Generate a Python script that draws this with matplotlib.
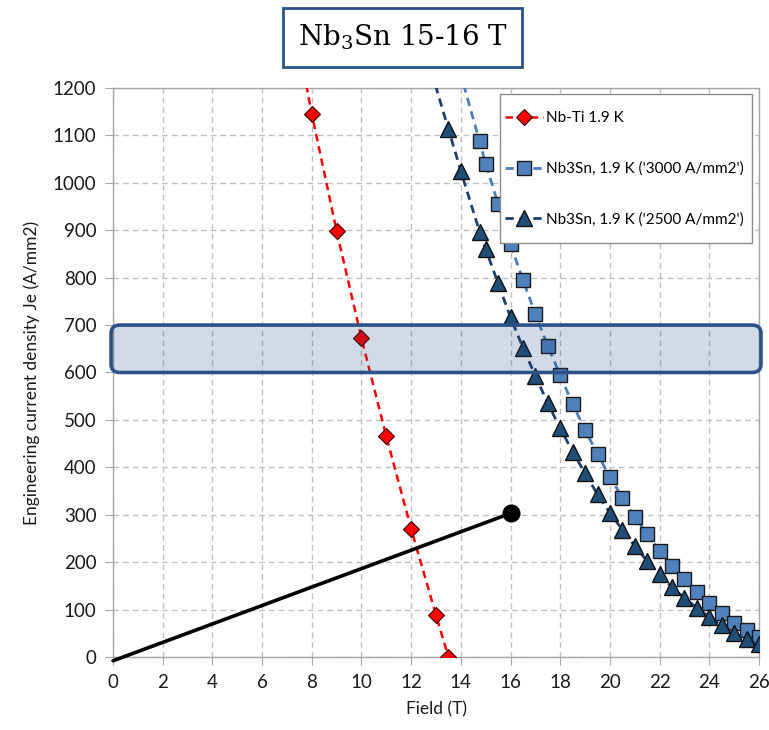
import matplotlib
matplotlib.use("Agg")
import matplotlib.pyplot as plt
from matplotlib.patches import FancyBboxPatch, Rectangle

# Nb-Ti at 1.9 K
nbti_field = [7.0, 8, 9, 10, 11, 12, 13, 13.5]
nbti_je = [1420, 1145, 898, 672, 465, 270, 88, 0]

# Nb3Sn at 1.9 K, '3000 A/mm2' conductor
sn3000_field = [13.5, 14.75, 15, 15.5, 16, 16.5, 17, 17.5, 18, 18.5, 19, 19.5, 20,
                20.5, 21, 21.5, 22, 22.5, 23, 23.5, 24, 24.5, 25, 25.5, 26]
sn3000_je = [1320, 1088, 1040, 955, 870, 795, 723, 656, 594, 533, 479, 428, 380,
             336, 296, 259, 223, 192, 164, 138, 114, 92, 72, 57, 43]

# Nb3Sn at 1.9 K, '2500 A/mm2' conductor
sn2500_field = [12.5, 13.5, 14, 14.75, 15, 15.5, 16, 16.5, 17, 17.5, 18, 18.5, 19,
                19.5, 20, 20.5, 21, 21.5, 22, 22.5, 23, 23.5, 24, 24.5, 25, 25.5, 26]
sn2500_je = [1290, 1113, 1025, 897, 860, 788, 716, 652, 593, 535, 482, 433, 387,
             343, 304, 268, 234, 202, 174, 147, 124, 104, 84, 67, 51, 37, 27]

# Magnet load line and operating point
load_field = [0, 16]
load_je = [-8, 303]

# Target current-density band
band_low, band_high = 600, 700

x_ticks = list(range(0, 27, 2))
y_ticks = list(range(0, 1201, 100))

plt.rcParams['font.family'] = ['Lato', 'DejaVu Sans']

fig = plt.figure(figsize=(7.69, 7.30), dpi=100)
ax = fig.add_axes([0.147, 0.1, 0.84, 0.7795])

grid_c = '#BFBFBF'
ax.set_xlim(0, 26)
ax.set_ylim(0, 1200)
ax.set_xticks(x_ticks)
ax.set_yticks(y_ticks)
ax.grid(True, color=grid_c, linestyle=(0, (4, 3)), linewidth=1.0)
ax.set_axisbelow(True)
for s in ax.spines.values():
    s.set_color('#A6A6A6')
    s.set_linewidth(1.0)
ax.tick_params(axis='both', direction='out', length=6, color='#A6A6A6',
               labelsize=13.5, labelcolor='#1A1A1A', pad=6)

ax.plot(nbti_field, nbti_je, color='#FF0000', linestyle=(0, (3, 2)), linewidth=1.8,
        marker='D', markersize=8, markerfacecolor='#FF0000', markeredgecolor='#3A0000',
        markeredgewidth=0.8, label='Nb-Ti 1.9 K', zorder=3)
ax.plot(sn3000_field, sn3000_je, color='#4A7EBB', linestyle=(0, (3, 2)), linewidth=2.0,
        marker='s', markersize=9.5, markerfacecolor='#4F81BD', markeredgecolor='#1A1A1A',
        markeredgewidth=1.0, label="Nb3Sn, 1.9 K ('3000 A/mm2')", zorder=3)
ax.plot(sn2500_field, sn2500_je, color='#1F3F6E', linestyle=(0, (3, 2)), linewidth=2.0,
        marker='^', markersize=11.5, markerfacecolor='#1F4E79', markeredgecolor='#111111',
        markeredgewidth=1.0, label="Nb3Sn, 1.9 K ('2500 A/mm2')", zorder=3)

ax.plot(load_field, load_je, color='black', linewidth=2.6, solid_capstyle='round',
        clip_on=False, zorder=4)
ax.plot(load_field[-1], load_je[-1], marker='o', markersize=12, color='black', zorder=5)

# Rounded highlight band across the whole field range
pad_x = 0.08
band = FancyBboxPatch((-pad_x, band_low), 26 + 2 * pad_x, band_high - band_low,
                      boxstyle='round,pad=0,rounding_size=0.35', mutation_aspect=50,
                      facecolor=(0.12, 0.29, 0.49, 0.2), edgecolor='#2C5289',
                      linewidth=2.6, clip_on=False, zorder=6)
ax.add_patch(band)

# Legend: white panel with its entries spread down it
panel = Rectangle((0.599, 0.7276), 0.39, 0.2619, transform=ax.transAxes,
                  facecolor='white', edgecolor='#8C8C8C', linewidth=1.0, zorder=7)
ax.add_patch(panel)
leg = ax.legend(loc='upper left', bbox_to_anchor=(0.607, 0.959), fontsize=11,
                frameon=False, labelspacing=2.37, handlelength=2.45, handletextpad=0.2,
                borderpad=0, borderaxespad=0)
leg.set_zorder(8)

ax.set_xlabel('Field (T)', fontsize=12.5, labelpad=8, color='#1A1A1A')
ax.set_ylabel('Engineering current density Je (A/mm2)', fontsize=12.5, labelpad=9,
              color='#1A1A1A')

# Title box
fig.text(0.524, 0.9486, r'Nb$_3$Sn 15-16 T', ha='center', va='center', fontsize=20,
         family=['DejaVu Serif'], math_fontfamily='dejavuserif',
         bbox=dict(boxstyle='square,pad=0.52', facecolor='white', edgecolor='#2C5289',
                   linewidth=2.0))

fig.savefig('out.png', dpi=100)
